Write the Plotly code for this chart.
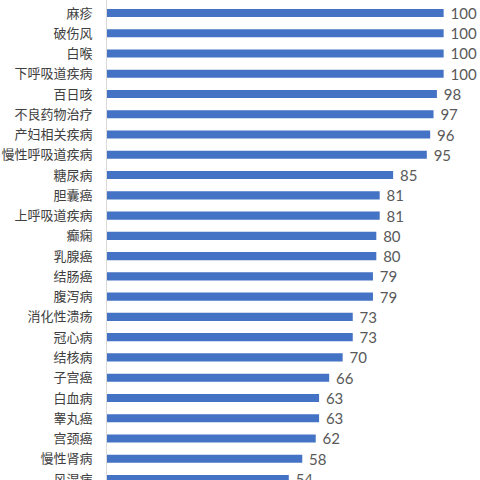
import plotly.graph_objects as go

# categories, top to bottom
diseases = [
    "麻疹", "破伤风", "白喉", "下呼吸道疾病", "百日咳", "不良药物治疗",
    "产妇相关疾病", "慢性呼吸道疾病", "糖尿病", "胆囊癌", "上呼吸道疾病",
    "癫痫", "乳腺癌", "结肠癌", "腹泻病", "消化性溃疡", "冠心病", "结核病",
    "子宫癌", "白血病", "睾丸癌", "宫颈癌", "慢性肾病", "风湿病",
]
scores = [
    100, 100, 100, 100, 98, 97,
    96, 95, 85, 81, 81,
    80, 80, 79, 79, 73, 73, 70,
    66, 63, 63, 62, 58, 54,
]

fig = go.Figure(go.Bar(
    x=scores,
    y=diseases,
    orientation="h",
    marker=dict(color="#4472C4", line=dict(width=0)),
    texttemplate=" %{x}",
    textposition="outside",
    constraintext="none",
    textfont=dict(family="Lato, Noto Sans CJK SC", size=15, color="#595959"),
    cliponaxis=False,
))

fig.update_layout(
    width=480,
    height=480,
    margin=dict(l=107, r=0, t=0, b=0, autoexpand=False),
    plot_bgcolor="white",
    paper_bgcolor="white",
    bargap=0.6,
    showlegend=False,
    font=dict(family="Noto Sans CJK SC", size=12, color="#404040"),
)
fig.update_xaxes(range=[0, 110.8], visible=False, showgrid=False)
fig.update_yaxes(
    type="category",
    range=[23.05, -0.64],
    automargin=False,
    showline=True,
    linecolor="#d9d9d9",
    linewidth=1,
    ticks="outside",
    ticklen=11,
    tickcolor="rgba(0,0,0,0)",
    showgrid=False,
    tickfont=dict(size=13, color="#404040"),
)

# the page's default body margin would shift the chart by 8px
fig.write_html(
    "out.html",
    config={"displayModeBar": False},
    post_script="document.body.style.margin='0';document.body.style.overflow='hidden';",
)
